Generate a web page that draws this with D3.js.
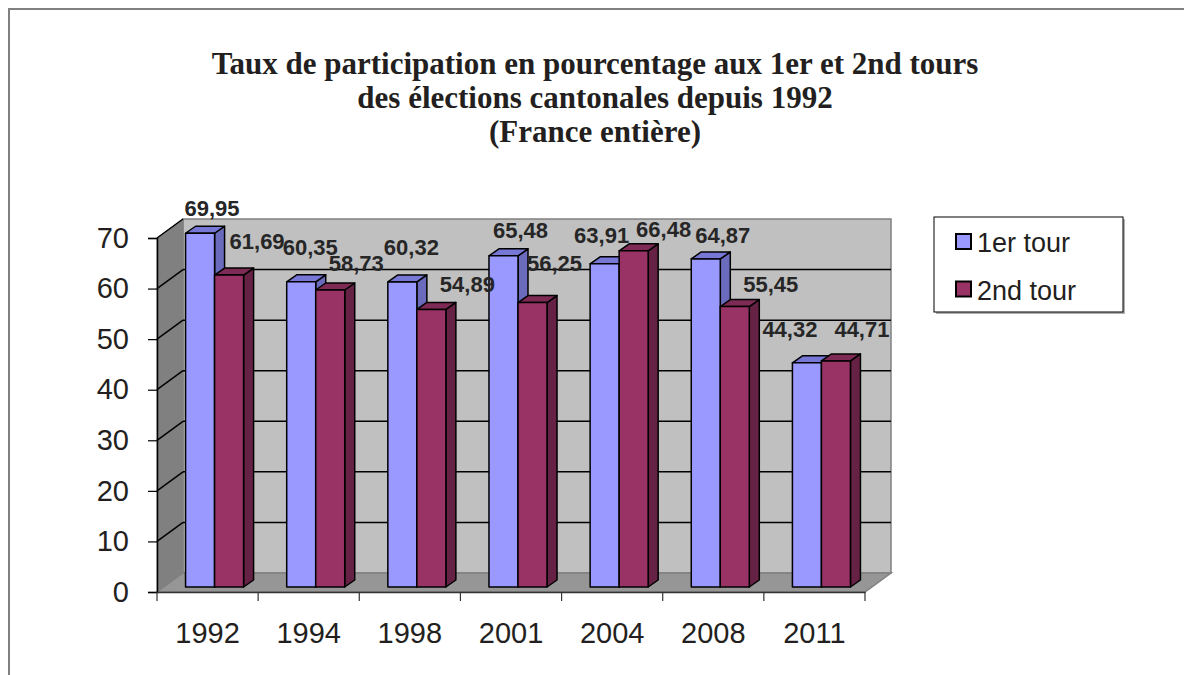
<!DOCTYPE html>
<html><head><meta charset="utf-8">
<script src="https://cdn.jsdelivr.net/npm/d3@7"></script>
<style>html,body{margin:0;padding:0;background:#fff;}svg{display:block;}</style>
</head><body>
<svg id="c" width="1184" height="675"></svg>
<script>
// ---- data ----
const years = ["1992","1994","1998","2001","2004","2008","2011"];
const seriesNames = ["1er tour","2nd tour"];
const tour1 = [69.95, 60.35, 60.32, 65.48, 63.91, 64.87, 44.32];
const tour2 = [61.69, 58.73, 54.89, 56.25, 66.48, 55.45, 44.71];
const yTicks = [0,10,20,30,40,50,60,70];
const titleLines = ["Taux de participation en pourcentage aux 1er et 2nd tours","des élections cantonales depuis 1992","(France entière)"];
// label nudges (layout only): [dx, dy] relative to bar top centre
const labelNudge1 = [[12,-22],[9,-32],[9,-32],[17,-23],[-3,-26],[17,-21],[-17,-31]];
const labelNudge2 = [[28,-31],[26,-24],[36,-22],[22,-37],[30,-19],[36,-20],[26,-29]];

const svg = d3.select("#c");
const colors = {
  "1er tour": {front:"#9999ff", top:"#7777d6", side:"#6b6bbd"},
  "2nd tour": {front:"#993366", top:"#7d2a55", side:"#662245"}
};
const X0 = 157, X1 = 865, Y0 = 592;
const DX = 26, DY = -19;       // wall depth
const BX = 7, BY = -5;         // bar front offset
const BDX = 10, BDY = -7;      // bar depth

const x = d3.scaleBand().domain(years).range([X0, X1]).padding(0);
const xs = d3.scaleBand().domain(seriesNames).range([0, x.bandwidth()]).paddingInner(0).paddingOuter(0.743);
const y = d3.scaleLinear().domain([0,70]).range([Y0, 238]);

// frame
svg.append("path").attr("d","M9,675 L9,9 L1184,9").attr("fill","none").attr("stroke","#808080").attr("stroke-width",2);

// title
const title = svg.append("text").attr("text-anchor","middle")
  .attr("font-family","'Liberation Serif','DejaVu Serif',serif").attr("font-weight","bold")
  .attr("font-size",31).attr("fill","#231f20");
titleLines.forEach((t,i)=>title.append("tspan").attr("x",595).attr("y",74+i*34).text(t));

// back wall
const yTop = y(70);
svg.append("polygon").attr("points",[[X0+DX,yTop+DY],[X1+DX,yTop+DY],[X1+DX,Y0+DY],[X0+DX,Y0+DY]].join(" "))
  .attr("fill","#c0c0c0").attr("stroke","#808080").attr("stroke-width",1.5);
// left wall
svg.append("polygon").attr("points",[[X0,Y0],[X0+DX,Y0+DY],[X0+DX,yTop+DY],[X0,yTop]].join(" "))
  .attr("fill","#808080").attr("stroke","#808080").attr("stroke-width",1);
// floor
svg.append("polygon").attr("points",[[X0,Y0],[X1,Y0],[X1+DX,Y0+DY],[X0+DX,Y0+DY]].join(" "))
  .attr("fill","#969696").attr("stroke","#808080").attr("stroke-width",1.5);

// gridlines
const gl = yTicks.filter(v=>v>0 && v<70);
svg.append("g").selectAll("line").data(gl).join("line")
  .attr("x1",X0+DX).attr("x2",X1+DX).attr("y1",d=>y(d)+DY).attr("y2",d=>y(d)+DY)
  .attr("stroke","#000").attr("stroke-width",1.5);
svg.append("g").selectAll("line").data(yTicks.filter(v=>v>0)).join("line")
  .attr("x1",X0).attr("x2",X0+DX).attr("y1",d=>y(d)).attr("y2",d=>y(d)+DY)
  .attr("stroke","#000").attr("stroke-width",1.5);

// y axis
const yAxis = d3.axisLeft(y).tickValues(yTicks).tickSize(9).tickPadding(19).tickFormat(d3.format("d"));
const ya = svg.append("g").attr("transform",`translate(${X0},0)`).call(yAxis);
ya.select(".domain").attr("stroke","#000").attr("stroke-width",1.5);
ya.selectAll(".tick line").attr("stroke","#000").attr("stroke-width",1.2);
ya.selectAll(".tick text").attr("font-family","Arial,'Liberation Sans',sans-serif").attr("font-size",29).attr("fill","#231f20");

// x axis
const xAxis = d3.axisBottom(x).tickSize(0).tickPadding(30);
const xa = svg.append("g").attr("transform",`translate(0,${Y0})`).call(xAxis);
xa.select(".domain").attr("stroke","#333").attr("stroke-width",1.5);
xa.selectAll(".tick text").attr("font-family","Arial,'Liberation Sans',sans-serif").attr("font-size",29).attr("fill","#231f20");
const bounds = years.map(d=>x(d)).concat([X1]);
svg.append("g").selectAll("line").data(bounds).join("line")
  .attr("x1",d=>d).attr("x2",d=>d).attr("y1",Y0).attr("y2",Y0+9)
  .attr("stroke","#333").attr("stroke-width",1.2);

// bars
const rows = [];
years.forEach((yr,i)=>{
  rows.push({yr, s:"1er tour", v:tour1[i], nudge:labelNudge1[i]});
  rows.push({yr, s:"2nd tour", v:tour2[i], nudge:labelNudge2[i]});
});
const bars = svg.append("g");
rows.forEach(r=>{
  const xa0 = x(r.yr)+xs(r.s)+BX, xa1 = xa0+xs.bandwidth();
  const yt = y(r.v)+BY, yb = Y0+BY;
  const c = colors[r.s];
  const g = bars.append("g").attr("stroke","#000").attr("stroke-width",1.5).attr("stroke-linejoin","round");
  g.append("polygon").attr("points",[[xa1,yt],[xa1+BDX,yt+BDY],[xa1+BDX,yb+BDY],[xa1,yb]].join(" ")).attr("fill",c.side);
  g.append("polygon").attr("points",[[xa0,yt],[xa0+BDX,yt+BDY],[xa1+BDX,yt+BDY],[xa1,yt]].join(" ")).attr("fill",c.top);
  g.append("rect").attr("x",xa0).attr("y",yt).attr("width",xa1-xa0).attr("height",yb-yt).attr("fill",c.front);
});

// data labels
const fmt = v => d3.format(".2f")(v).replace(".",",");
svg.append("g").selectAll("text").data(rows).join("text")
  .attr("x",r=>x(r.yr)+xs(r.s)+BX+xs.bandwidth()/2+r.nudge[0])
  .attr("y",r=>y(r.v)+r.nudge[1])
  .attr("text-anchor","middle")
  .attr("font-family","Arial,'Liberation Sans',sans-serif").attr("font-weight","bold")
  .attr("font-size",22).attr("fill","#262626")
  .text(r=>fmt(r.v));

// legend
const lg = svg.append("g");
lg.append("rect").attr("x",936).attr("y",219).attr("width",189).attr("height",95).attr("fill","#b0b0b0");
lg.append("rect").attr("x",934).attr("y",217).attr("width",189).attr("height",95).attr("fill","#fff").attr("stroke","#000").attr("stroke-width",1);
seriesNames.forEach((s,i)=>{
  lg.append("rect").attr("x",956).attr("y",234+i*47.5).attr("width",15).attr("height",15)
    .attr("fill",colors[s].front).attr("stroke","#000").attr("stroke-width",2);
  lg.append("text").attr("x",977).attr("y",252+i*47.5)
    .attr("font-family","Arial,'Liberation Sans',sans-serif").attr("font-size",27).attr("fill","#231f20").text(s);
});
</script>
</body></html>
